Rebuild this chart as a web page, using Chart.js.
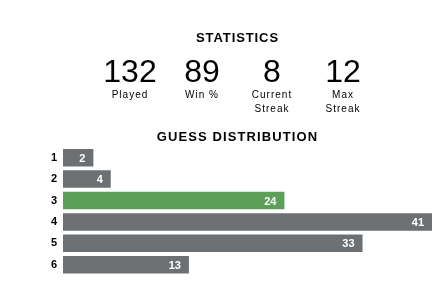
<!DOCTYPE html>
<html>
<head>
<meta charset="utf-8">
<script src="https://cdn.jsdelivr.net/npm/chart.js@4"></script>
<style>
  body { margin: 0; background: #fff; font-family: "Liberation Sans", Arial, sans-serif; color: #000; }
  #wrap { position: relative; width: 447px; height: 288px; overflow: hidden; }
  #guesses { position: absolute; left: 0; top: 0; }
  .head { position: absolute; left: 0; width: 475px; text-align: center; font-weight: bold; font-size: 13px; line-height: 13px; letter-spacing: 0.9px; }
  .stat { position: absolute; width: 80px; text-align: center; }
  .stat .num { font-size: 32px; line-height: 32px; }
  .stat .lbl { font-size: 10px; line-height: 14px; letter-spacing: 1px; margin-top: 0.5px; }
</style>
</head>
<body>
<div id="wrap">
  <canvas id="guesses" width="447" height="288"></canvas>
  <div class="head" style="top:31px">STATISTICS</div>
  <div id="stats"></div>
  <div class="head" style="top:130px; letter-spacing:1.1px">GUESS DISTRIBUTION</div>
</div>
<script>
// stats row
const statValues = [132, 89, 8, 12];
const statLabels = [['Played'], ['Win %'], ['Current', 'Streak'], ['Max', 'Streak']];
const statCenters = [130, 202, 272, 343];

// guess distribution
const guesses = ['1', '2', '3', '4', '5', '6'];
const counts = [2, 4, 24, 41, 33, 13];
const lastGuess = '3';

const statsBox = document.getElementById('stats');
statValues.forEach((v, i) => {
    const d = document.createElement('div');
    d.className = 'stat';
    d.style.left = (statCenters[i] - 40) + 'px';
    d.style.top = '55px';
    d.innerHTML = '<div class="num">' + v + '</div><div class="lbl">' + statLabels[i].join('<br>') + '</div>';
    statsBox.appendChild(d);
});

// write the count inside the end of each bar
const barValues = {
    id: 'barValues',
    afterDatasetsDraw(chart) {
        const ctx = chart.ctx;
        const meta = chart.getDatasetMeta(0);
        ctx.save();
        ctx.fillStyle = '#fff';
        ctx.font = 'bold 11px "Liberation Sans", Arial, sans-serif';
        ctx.textAlign = 'right';
        ctx.textBaseline = 'middle';
        meta.data.forEach((bar, i) => {
            ctx.fillText(counts[i], bar.x - 8, bar.y + 1);
        });
        ctx.restore();
    }
};

// bars keep a small stub so that short counts still hold their number
const stub = -1.5;

new Chart(document.getElementById('guesses'), {
    type: 'bar',
    data: {
        labels: guesses,
        datasets: [{
            data: counts,
            base: stub,
            backgroundColor: guesses.map(g => g === lastGuess ? '#5c9f57' : '#6d7073'),
            barPercentage: 0.82,
            categoryPercentage: 1
        }]
    },
    options: {
        indexAxis: 'y',
        responsive: false,
        animation: false,
        layout: { padding: { top: 147, bottom: 9, left: 0, right: 15 } },
        plugins: { legend: { display: false }, tooltip: { enabled: false } },
        scales: {
            x: { display: false, min: stub, max: 41 },
            y: {
                grid: { display: false, drawTicks: false },
                border: { display: false },
                afterFit(scale) { scale.width = 63; },
                ticks: {
                    padding: 6,
                    color: '#000',
                    font: { family: '"Liberation Sans", Arial, sans-serif', size: 11, weight: 'bold' }
                }
            }
        }
    },
    plugins: [barValues]
});
</script>
</body>
</html>
